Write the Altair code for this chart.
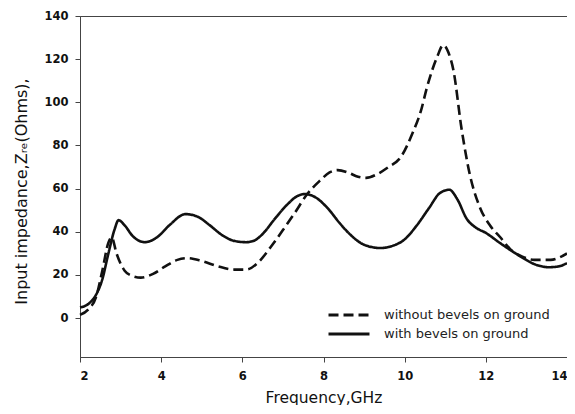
import altair as alt
import pandas as pd

# without bevels on ground (dashed)
freq_a = [2.0, 2.2, 2.4, 2.55, 2.7, 2.78, 2.9, 3.1, 3.3, 3.5, 3.8, 4.1, 4.4, 4.65, 5.0, 5.4,
          5.8, 6.1, 6.4, 6.7, 7.0, 7.3, 7.6, 7.9, 8.15, 8.35, 8.6, 8.85, 9.05, 9.3, 9.6, 9.9,
          10.2, 10.4, 10.55, 10.8, 10.95, 11.1, 11.2, 11.4, 11.6, 11.85, 12.1, 12.35, 12.6,
          12.9, 13.2, 13.6, 13.8, 14.0]
zre_a = [1.5, 4, 10, 22, 35, 37.5, 30, 22, 19.5, 18.8, 20.5, 24, 27, 27.8, 26.5, 24,
         22.5, 22.5, 26, 33, 40.8, 49, 57.5, 63.5, 67.5, 68.6, 67.5, 65.5, 65, 66.5, 70, 74.5,
         86, 96, 107, 121, 126.5, 122, 115, 88, 67, 51.5, 43, 37.6, 32,
         28.5, 27, 27, 28, 30]

# with bevels on ground (solid)
freq_b = [2.0, 2.2, 2.4, 2.55, 2.7, 2.85, 2.95, 3.1, 3.3, 3.6, 3.9, 4.2, 4.6, 4.9, 5.2, 5.5,
          5.8, 6.1, 6.3, 6.5, 6.8, 7.1, 7.35, 7.55, 7.8, 8.1, 8.4, 8.7, 9.0, 9.4, 9.7, 10.0,
          10.3, 10.6, 10.87, 11.1, 11.3, 11.53, 11.75, 12.0, 12.35, 12.65, 12.92, 13.2, 13.55,
          13.8, 14.0]
zre_b = [5, 6.5, 11, 18, 30, 41, 45.4, 43, 38, 35.2, 37.5, 43, 48.2, 47, 43, 38.5,
         35.8, 35.2, 36, 39, 46, 52.5, 56.5, 57.5, 56, 51, 44, 38, 34, 32.5, 33.5, 36.5,
         43, 51, 58, 59.5, 55, 46, 42, 39.5, 34.8, 31, 27.8, 25, 23.6,
         24, 25.5]

series_names = ["without bevels on ground", "with bevels on ground"]
x_ticks = [2, 4, 6, 8, 10, 12, 14]
y_ticks = [0, 20, 40, 60, 80, 100, 120, 140]

df = pd.concat([
    pd.DataFrame({"f": freq_a, "z": zre_a, "s": series_names[0], "o": 0}),
    pd.DataFrame({"f": freq_b, "z": zre_b, "s": series_names[1], "o": 1}),
])

font = "DejaVu Sans"

chart = alt.Chart(df).mark_line(
    color="#111111", strokeWidth=2.6, interpolate="monotone"
).encode(
    x=alt.X("f:Q", scale=alt.Scale(domain=[2, 14], nice=False, zero=False),
            axis=alt.Axis(values=x_ticks, title="Frequency,GHz", grid=False,
                          tickSize=5, labelPadding=8, titleY=45,
                          titleBaseline="alphabetic", format="d")),
    y=alt.Y("z:Q", scale=alt.Scale(domain=[-18, 140], nice=False, zero=False),
            axis=alt.Axis(values=y_ticks, title="Input impedance,Zᵣₑ(Ohms),", grid=False,
                          tickSize=5, labelPadding=7, titlePadding=14, titleY=175,
                          titleFontSize=16, format="d")),
    strokeDash=alt.StrokeDash(
        "s:N",
        scale=alt.Scale(domain=series_names, range=[[10, 5], [1, 0]]),
        legend=alt.Legend(title=None, orient="none", legendX=257, legendY=287,
                          symbolType="M-2,0H2", symbolSize=420, symbolStrokeWidth=2.8,
                          symbolStrokeColor="#111111", symbolFillColor="transparent",
                          labelOffset=23, labelLimit=400,
                          labelFontSize=13, labelFont=font, labelColor="#222222",
                          rowPadding=0, padding=0),
    ),
    detail="s:N",
    order="o:Q",
).properties(
    width=487, height=341,
    autosize=alt.AutoSizeParams(type="none"),
    padding={"left": 72, "top": 8, "right": 0, "bottom": 48},
).configure_view(
    stroke="#444444", strokeWidth=1
).configure_axis(
    domainColor="#444444", tickColor="#444444",
    labelFont=font, labelFontSize=11.5, labelFontWeight="bold", labelColor="#111111",
    titleFont=font, titleFontSize=15.5, titleFontWeight="normal", titleColor="#111111",
)

chart.save("out.html", embed_options={"renderer": "svg", "actions": False})
